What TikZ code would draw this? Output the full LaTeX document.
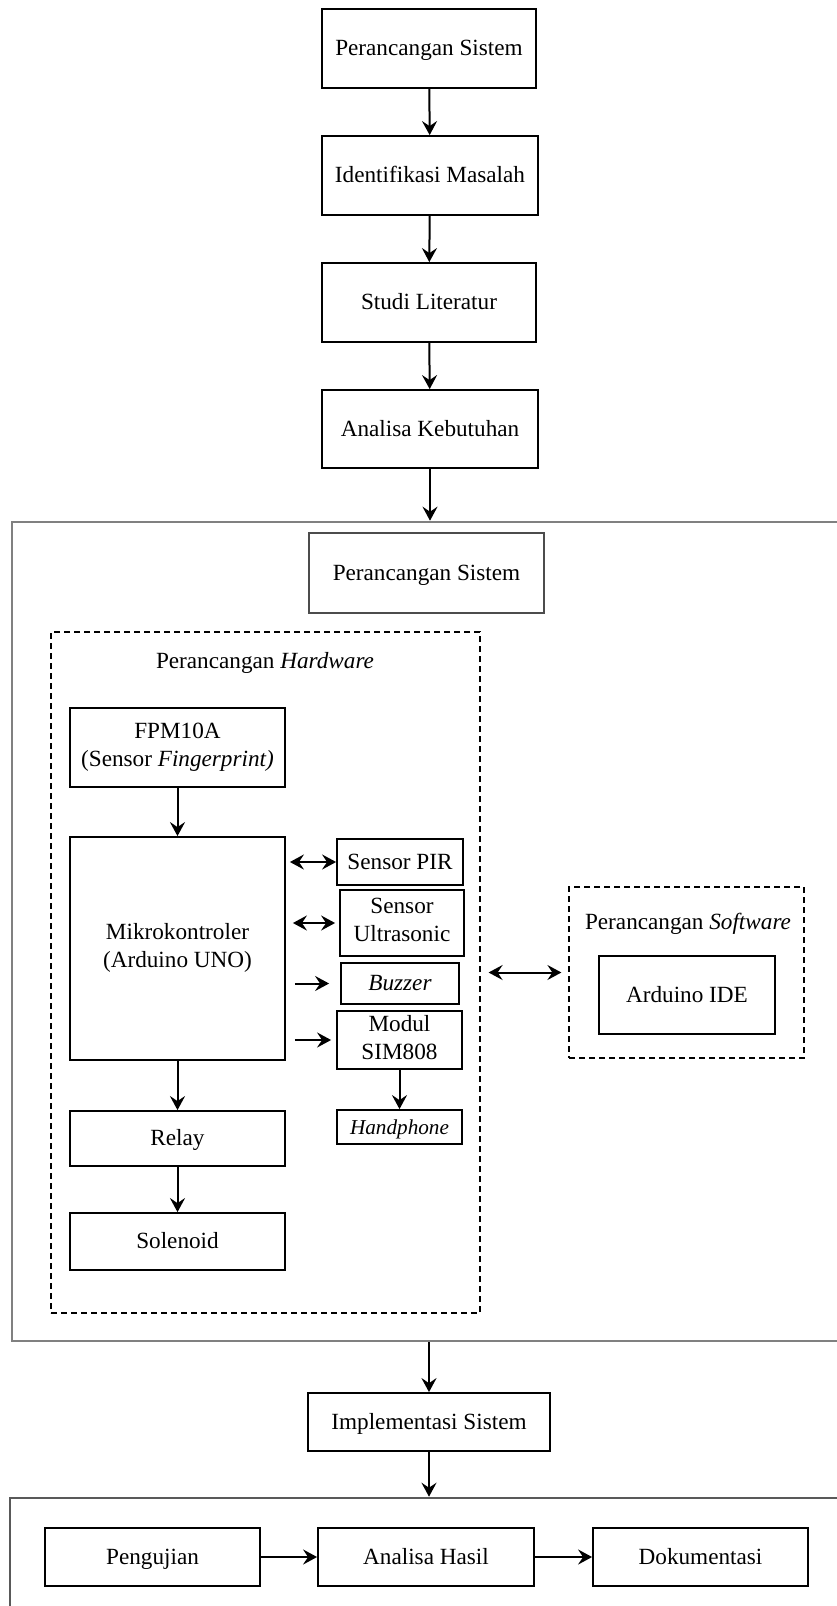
\documentclass[tikz,border=0pt]{standalone}
\usepackage{fontspec}
\setmainfont{Liberation Serif}
\usepackage{tikz}
\usetikzlibrary{arrows.meta, calc}

\newcommand{\tegak}{\rule[-3pt]{0pt}{13pt}}

\tikzset{
  kotak/.style={draw, line width=0.9pt, align=center, inner sep=0pt, execute at begin node=\tegak},
  garis/.style={draw, dash pattern=on 3pt off 2pt, line width=0.6pt},
  bingkai/.style={draw=gray, line width=1.3pt},
  panah/.style={-{Stealth[length=7pt, width=7.5pt, inset=2.5pt]}, line width=1pt},
  panahdua/.style={{Stealth[length=7pt, width=7.5pt, inset=2.5pt]}-{Stealth[length=7pt, width=7.5pt, inset=2.5pt]}, line width=1pt},
}

\begin{document}
\begin{tikzpicture}[font=\fontsize{11.6}{14}\selectfont]
\begin{scope}[x=0.5pt, y=-0.5pt]
\useasboundingbox (0,0) rectangle (836,1606);

\node[kotak, minimum width=107pt, minimum height=39.5pt] (sistem1) at (429,48.5) {Perancangan Sistem};
\node[kotak, minimum width=108pt, minimum height=39.5pt] (masalah) at (430,175.5) {Identifikasi Masalah};
\node[kotak, minimum width=107pt, minimum height=39.5pt] (literatur) at (429,302.5) {Studi Literatur};
\node[kotak, minimum width=108pt, minimum height=39pt] (kebutuhan) at (430,429) {Analisa Kebutuhan};

\node[bingkai, minimum width=419pt, minimum height=409.5pt] (rancang) at (431,931.5) {};
\node[kotak, draw=gray!60!black, minimum width=117.5pt, minimum height=40pt] (sistem2) at (426.5,573) {Perancangan Sistem};

\node[garis, minimum width=214.5pt, minimum height=340.5pt] (hw) at (265.5,972.5) {};
\node (hwlabel) at (265,663) {Perancangan \textit{Hardware}};
\node[kotak, minimum width=107.5pt, minimum height=39.5pt] (fpm) at (177.5,747.5) {FPM10A\\(Sensor \textit{Fingerprint)}};
\node[kotak, minimum width=107.5pt, minimum height=111.5pt] (mikro) at (177.5,948.5) {Mikrokontroler\\(Arduino UNO)};
\node[kotak, minimum width=63pt, minimum height=23pt] (pir) at (400,862) {Sensor PIR};
\node[kotak, minimum width=62pt, minimum height=33pt] (ultra) at (402,923) {Sensor\\Ultrasonic};
\node[kotak, minimum width=59pt, minimum height=20.5pt] (buzzer) at (400,983.5) {\textit{Buzzer}};
\node[kotak, minimum width=62.5pt, minimum height=29pt] (sim) at (399.5,1040) {Modul\\SIM808};
\node[kotak, minimum width=62.5pt, minimum height=17pt, font=\fontsize{10.6}{12}\selectfont] (hp) at (399.5,1127) {\textit{Handphone}};
\node[kotak, minimum width=107.5pt, minimum height=27.5pt] (relay) at (177.5,1138.5) {Relay};
\node[kotak, minimum width=107.5pt, minimum height=28.5pt] (solenoid) at (177.5,1241.5) {Solenoid};

\node[garis, minimum width=117.5pt, minimum height=85.5pt] (sw) at (686.5,972.5) {};
\node (swlabel) at (688,924) {Perancangan \textit{Software}};
\node[kotak, minimum width=88pt, minimum height=39pt] (ide) at (687,995) {Arduino IDE};

\node[kotak, minimum width=121pt, minimum height=29pt] (implementasi) at (429,1422) {Implementasi Sistem};

\node[bingkai, draw=gray!70!black, minimum width=425pt, minimum height=71pt] (uji) at (435,1569) {};
\node[kotak, minimum width=107.5pt, minimum height=29pt] (pengujian) at (152.5,1557) {Pengujian};
\node[kotak, minimum width=108pt, minimum height=29pt] (hasil) at (426,1557) {Analisa Hasil};
\node[kotak, minimum width=107.5pt, minimum height=29pt] (dokumentasi) at (700.5,1557) {Dokumentasi};

\draw[panah](sistem1)to(masalah);
\draw[panah](masalah)to(literatur);
\draw[panah](literatur)to(kebutuhan);
\draw[panah](kebutuhan.south)to(kebutuhan.south |- rancang.north);

\draw[panah](fpm)to(mikro);
\draw[panah](mikro)to(relay);
\draw[panah](relay)to(solenoid);
\draw[panahdua, shorten <=2pt](mikro.east |- pir)to(pir.west);
\draw[panahdua, shorten <=3.5pt, shorten >=2pt](mikro.east |- ultra)to(ultra.west);
\draw[panah, shorten <=4.5pt, shorten >=5.5pt](mikro.east |- buzzer)to(buzzer.west);
\draw[panah, shorten <=4.5pt, shorten >=2.5pt](mikro.east |- sim)to(sim.west);
\draw[panah](sim)to(hp);

\draw[panahdua, shorten <=4pt, shorten >=3.5pt](hw.east)to(sw.west);

\draw[panah](rancang.south -| implementasi)to(implementasi.north);
\draw[panah](implementasi.south)to(implementasi.south |- uji.north);
\draw[panah](pengujian)to(hasil);
\draw[panah](hasil)to(dokumentasi);

\end{scope}
\end{tikzpicture}
\end{document}
